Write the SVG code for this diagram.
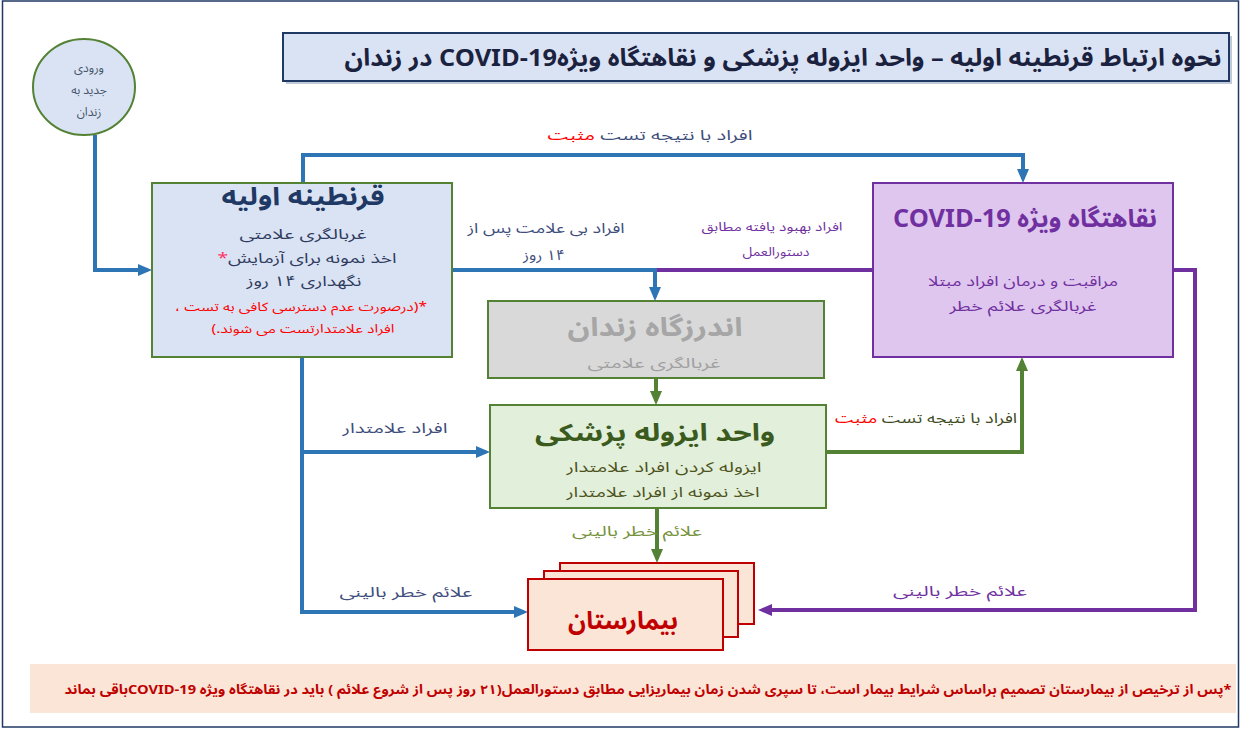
<svg xmlns="http://www.w3.org/2000/svg" width="1243" height="730" viewBox="0 0 1243 730">
<style>
text{font-family:'Noto Sans Arabic','DejaVu Sans',sans-serif;direction:rtl;text-anchor:middle}
.b{font-weight:bold}
.ln{fill:none;stroke-width:4}
.blue{stroke:#2e75b6}
.green{stroke:#548235}
.purple{stroke:#7030a0}
.lbl{font-size:14px;fill:#3e4d7c}
.red{fill:#ff0000}
</style>
<defs>
<marker id="ab" markerWidth="14" markerHeight="12" refX="10" refY="6" orient="auto" markerUnits="userSpaceOnUse"><path d="M0,0 L14,6 L0,12 z" fill="#2e75b6"/></marker>
<marker id="ag" markerWidth="14" markerHeight="12" refX="10" refY="6" orient="auto" markerUnits="userSpaceOnUse"><path d="M0,0 L14,6 L0,12 z" fill="#548235"/></marker>
<marker id="ap" markerWidth="14" markerHeight="12" refX="10" refY="6" orient="auto" markerUnits="userSpaceOnUse"><path d="M0,0 L14,6 L0,12 z" fill="#7030a0"/></marker>
</defs>
<rect x="0" y="0" width="1243" height="730" fill="#ffffff"/>
<rect x="2.5" y="1" width="1236" height="726" fill="none" stroke="#1f3864" stroke-width="1.5"/>

<g id="title">
<rect x="286" y="36" width="946" height="48" fill="#8497b0" opacity="0.5"/>
<rect x="283" y="33" width="946" height="48" fill="#dae3f3" stroke="#1f3864" stroke-width="2"/>
<text x="783" y="66" class="b" font-size="24" fill="#1a2240" textLength="877" lengthAdjust="spacingAndGlyphs">نحوه ارتباط قرنطینه اولیه – واحد ایزوله پزشکی و نقاهتگاه ویژهCOVID-19 در زندان</text>
</g>

<g id="connectors">
<path class="ln blue" d="M95,135 V270 H148" marker-end="url(#ab)"/>
<path class="ln blue" d="M303,183 V155 H1023 V179" marker-end="url(#ab)"/>
<path class="ln purple" d="M873,270 H655"/>
<path class="ln blue" d="M452,270 H655 V297" marker-end="url(#ab)"/>
<path class="ln green" d="M656,378 V401" marker-end="url(#ag)"/>
<path class="ln blue" d="M302,357 V612 H524" marker-end="url(#ab)"/>
<path class="ln blue" d="M302,452 H486" marker-end="url(#ab)"/>
<path class="ln green" d="M826,452 H1022 V361" marker-end="url(#ag)"/>
<path class="ln green" d="M657,508 V559" marker-end="url(#ag)"/>
<path class="ln purple" d="M1173,270 H1195 V610 H762" marker-end="url(#ap)"/>
<text x="650" y="140" class="lbl" textLength="205" lengthAdjust="spacingAndGlyphs">افراد با نتیجه تست <tspan class="red">مثبت</tspan></text>
<text x="546" y="233" class="lbl" textLength="157" lengthAdjust="spacingAndGlyphs">افراد بی علامت پس از</text>
<text x="544" y="260" class="lbl" textLength="42" lengthAdjust="spacingAndGlyphs">۱۴ روز</text>
<text x="772" y="231" font-size="12" fill="#7030a0" textLength="141" lengthAdjust="spacingAndGlyphs">افراد بهبود یافته مطابق</text>
<text x="776" y="256" font-size="12" fill="#7030a0" textLength="67" lengthAdjust="spacingAndGlyphs">دستورالعمل</text>
<text x="395" y="433" class="lbl" textLength="105" lengthAdjust="spacingAndGlyphs">افراد علامتدار</text>
<text x="926" y="423" font-size="14" fill="#3d4a22" textLength="182" lengthAdjust="spacingAndGlyphs">افراد با نتیجه تست <tspan class="red">مثبت</tspan></text>
<text x="637" y="536" font-size="14" fill="#76923c" textLength="130" lengthAdjust="spacingAndGlyphs">علائم خطر بالینی</text>
<text x="406" y="597" class="lbl" textLength="133" lengthAdjust="spacingAndGlyphs">علائم خطر بالینی</text>
<text x="960" y="596" font-size="14" fill="#7030a0" textLength="134" lengthAdjust="spacingAndGlyphs">علائم خطر بالینی</text>
</g>

<g id="entry">
<ellipse cx="84" cy="87" rx="51" ry="48" fill="#dae3f3" stroke="#548235" stroke-width="2"/>
<text x="89" y="72" font-size="12" fill="#44546a">ورودی</text>
<text x="89" y="94" font-size="12" fill="#44546a">جدید به</text>
<text x="89" y="116" font-size="12" fill="#44546a">زندان</text>
</g>

<g id="quarantine">
<rect x="152" y="183" width="300" height="174" fill="#dae3f3" stroke="#548235" stroke-width="2"/>
<text x="303" y="205" class="b" font-size="25" fill="#1f3864" textLength="163" lengthAdjust="spacingAndGlyphs">قرنطینه اولیه</text>
<text x="303" y="239" font-size="14" fill="#2f3b5e" textLength="127" lengthAdjust="spacingAndGlyphs">غربالگری علامتی</text>
<text x="307" y="263" font-size="14" fill="#2f3b5e" textLength="179" lengthAdjust="spacingAndGlyphs">اخذ نمونه برای آزمایش<tspan fill="#ff3366">*</tspan></text>
<text x="304" y="286" font-size="14" fill="#2f3b5e" textLength="115" lengthAdjust="spacingAndGlyphs">نگهداری ۱۴ روز</text>
<text x="301" y="311" font-size="12" fill="#ff0000" textLength="252" lengthAdjust="spacingAndGlyphs">*(درصورت عدم دسترسی کافی به تست ،</text>
<text x="303" y="333" font-size="12" fill="#ff0000" textLength="183" lengthAdjust="spacingAndGlyphs">افراد علامتدارتست  می شوند.)</text>
</g>

<g id="covid">
<rect x="873" y="183" width="300" height="174" fill="#dfc6ee" stroke="#7030a0" stroke-width="2"/>
<text x="1025" y="227" class="b" font-size="25" fill="#7030a0" textLength="264" lengthAdjust="spacingAndGlyphs">نقاهتگاه ویژه COVID-19</text>
<text x="1023" y="286" font-size="14" fill="#7030a0" textLength="190" lengthAdjust="spacingAndGlyphs">مراقبت و درمان افراد مبتلا</text>
<text x="1023" y="311" font-size="14" fill="#7030a0" textLength="147" lengthAdjust="spacingAndGlyphs">غربالگری علائم خطر</text>
</g>

<g id="clinic">
<rect x="488" y="301" width="336" height="77" fill="#d9d9d9" stroke="#548235" stroke-width="2"/>
<text x="655" y="336" class="b" font-size="26" fill="#a6a6a6" textLength="175" lengthAdjust="spacingAndGlyphs">اندرزگاه زندان</text>
<text x="654" y="368" font-size="14" fill="#a0a0a0" textLength="133" lengthAdjust="spacingAndGlyphs">غربالگری علامتی</text>
</g>

<g id="isolation">
<rect x="490" y="405" width="336" height="103" fill="#e2efda" stroke="#548235" stroke-width="2"/>
<text x="655" y="441" class="b" font-size="24" fill="#3a5a1e" textLength="240" lengthAdjust="spacingAndGlyphs">واحد ایزوله پزشکی</text>
<text x="664" y="472" font-size="14" fill="#4d5320" textLength="195" lengthAdjust="spacingAndGlyphs">ایزوله کردن افراد علامتدار</text>
<text x="663" y="497" font-size="14" fill="#4d5320" textLength="193" lengthAdjust="spacingAndGlyphs">اخذ نمونه از افراد علامتدار</text>
</g>

<g id="hospital">
<rect x="560" y="563" width="194" height="61" fill="#fbe5d6" stroke="#c00000" stroke-width="2"/>
<rect x="544" y="571" width="194" height="66" fill="#fbe5d6" stroke="#c00000" stroke-width="2"/>
<rect x="528" y="579" width="195" height="71" fill="#fbe5d6" stroke="#c00000" stroke-width="2"/>
<text x="623" y="629" class="b" font-size="25" fill="#c00000" textLength="110" lengthAdjust="spacingAndGlyphs">بیمارستان</text>
</g>

<g id="note">
<rect x="30" y="664" width="1206" height="49" fill="#fbe5d6"/>
<text x="648" y="694" class="b" font-size="13" fill="#c00000" textLength="1167" lengthAdjust="spacingAndGlyphs">*پس از ترخیص  از بیمارستان تصمیم  براساس شرایط  بیمار است،  تا سپری  شدن زمان  بیماریزایی مطابق دستورالعمل(۲۱ روز پس از شروع علائم ) باید در نقاهتگاه ویژه COVID-19باقی بماند</text>
</g>
</svg>
